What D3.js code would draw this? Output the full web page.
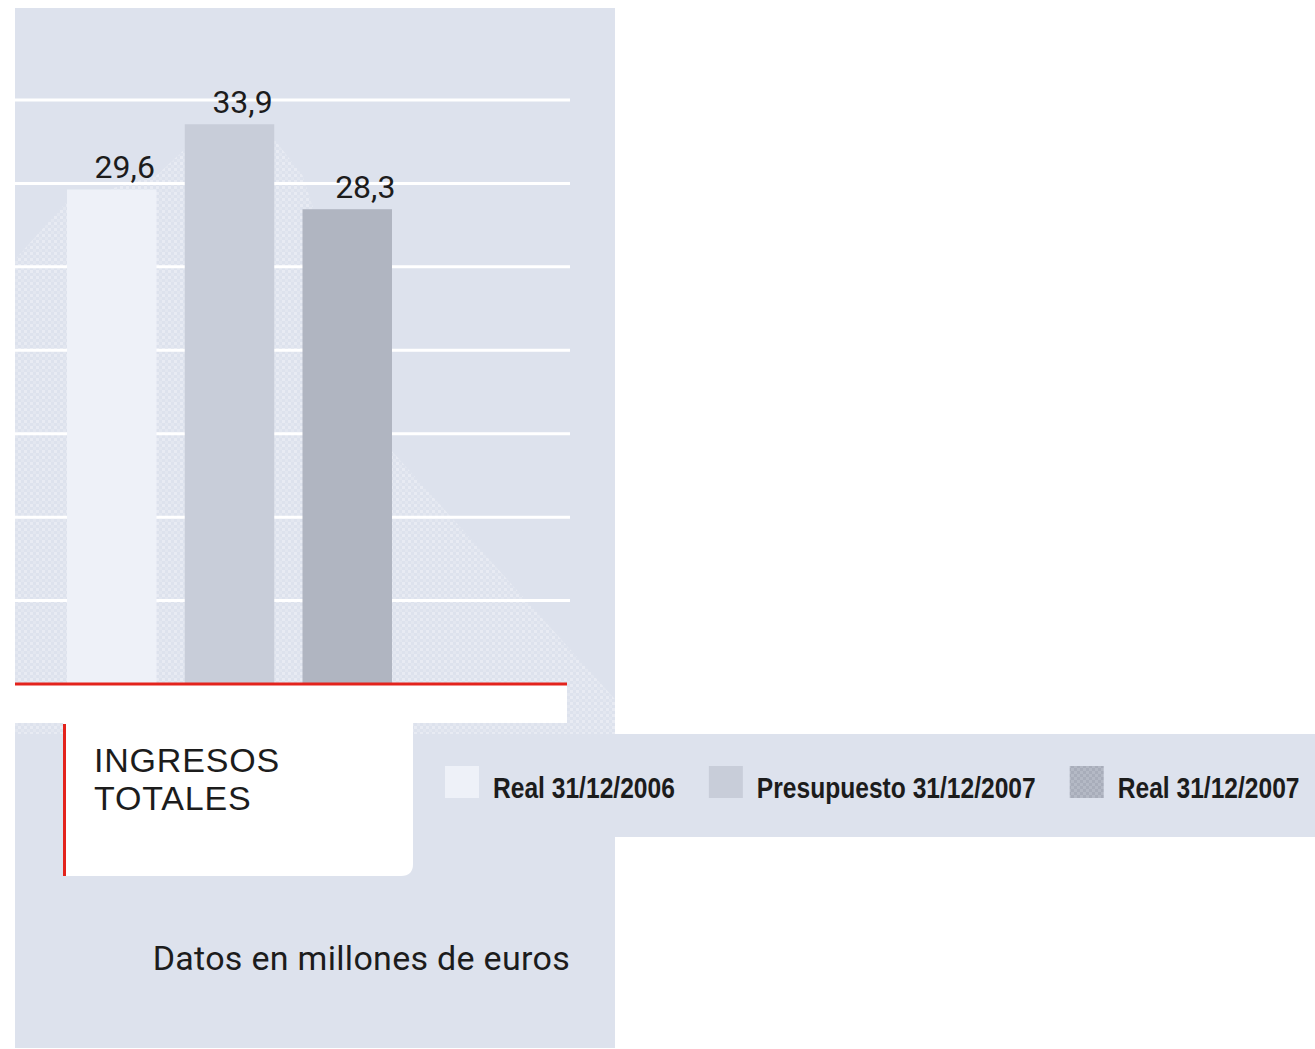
<!DOCTYPE html>
<html>
<head>
<meta charset="utf-8">
<script src="https://cdn.jsdelivr.net/npm/d3@7"></script>
<style>
  body { margin: 0; background: #ffffff; }
  svg { display: block; }
</style>
</head>
<body>
<div id="chart"></div>
<script>
// data
var categories = ["Real 31/12/2006", "Presupuesto 31/12/2007", "Real 31/12/2007"];
var values = [29.6, 33.9, 28.3];
var valueLabels = ["29,6", "33,9", "28,3"];
var gridValues = [2.5, 8, 13.5, 19, 24.5, 30, 35.5];
var titleLines = ["INGRESOS", "TOTALES"];
var footNote = "Datos en millones de euros";

var colors = ["#eef1f8", "#c8cdd9", "url(#checker)"];

// page / panel layout
var W = 1315, H = 1049;
var panel = { left: 15, top: 8, right: 615, bottom: 1048 },
    plot = { left: 15, right: 570, top: 100, bottom: 684 };

var svg = d3.select("#chart")
    .append("svg")
    .attr("width", W)
    .attr("height", H);

var defs = svg.append("defs");

// light dither used for the "shadow" areas
var dots = defs.append("pattern")
    .attr("id", "dots")
    .attr("width", 6).attr("height", 6)
    .attr("patternUnits", "userSpaceOnUse");
dots.append("rect").attr("width", 3).attr("height", 3).attr("fill", "#e8ebf3");
dots.append("rect").attr("x", 3).attr("y", 3).attr("width", 3).attr("height", 3).attr("fill", "#e3e7f0");

// checker for the 3rd bar swatch
var checker = defs.append("pattern")
    .attr("id", "checker")
    .attr("width", 6).attr("height", 6)
    .attr("patternUnits", "userSpaceOnUse");
checker.append("rect").attr("width", 6).attr("height", 6).attr("fill", "#b4b9c5");
checker.append("rect").attr("width", 3).attr("height", 3).attr("fill", "#a8adba");
checker.append("rect").attr("x", 3).attr("y", 3).attr("width", 3).attr("height", 3).attr("fill", "#a8adba");

// panel background
svg.append("rect")
    .attr("x", panel.left)
    .attr("y", panel.top)
    .attr("width", panel.right - panel.left)
    .attr("height", panel.bottom - panel.top)
    .attr("fill", "#dde2ed");

// scales
var x = d3.scaleBand()
    .domain(categories)
    .range([67, 392])
    .paddingInner(0.24)
    .paddingOuter(0);

var y = d3.scaleLinear()
    .domain([-3, 35.5])
    .range([plot.bottom, plot.top]);

var bw = x.bandwidth();
function bx(i) { return x(categories[i]); }
function by(i) { return y(values[i]); }

// soft shadow area behind bars (decorative)
var shadow = [
    [panel.left, by(0) + 70],
    [bx(0), by(0) + 12],
    [bx(0) + bw, by(0) - 14],
    [bx(1), by(1) + 25],
    [bx(1) + bw, by(1) + 15],
    [bx(2), by(2) - 34],
    [bx(2) + bw, by(2) + 242],
    [panel.right, by(2) + 490],
    [panel.right, 734],
    [panel.left, 734]
];
svg.append("path")
    .attr("d", d3.line()(shadow) + "Z")
    .attr("fill", "url(#dots)");

// gridlines
svg.selectAll(".grid")
    .data(gridValues)
    .enter().append("line")
    .attr("class", "grid")
    .attr("x1", plot.left)
    .attr("x2", plot.right)
    .attr("y1", function (d) { return y(d); })
    .attr("y2", function (d) { return y(d); })
    .attr("stroke", "#ffffff")
    .attr("stroke-width", 3);

// bars
svg.selectAll(".bar")
    .data(values)
    .enter().append("rect")
    .attr("class", "bar")
    .attr("x", function (d, i) { return x(categories[i]); })
    .attr("y", function (d) { return y(d); })
    .attr("width", bw)
    .attr("height", function (d) { return y(-3) - y(d); })
    .attr("fill", function (d, i) { return i == 2 ? "#b0b5c1" : colors[i]; });

// value labels
svg.selectAll(".val")
    .data(values)
    .enter().append("text")
    .attr("class", "val")
    .attr("x", function (d, i) { return x(categories[i]) + bw / 2 + (i == 2 ? 18 : 13); })
    .attr("y", function (d) { return y(d) - 11; })
    .attr("text-anchor", "middle")
    .attr("font-family", "Roboto, sans-serif")
    .attr("font-size", 32)
    .attr("fill", "#1c1c1c")
    .text(function (d, i) { return valueLabels[i]; });

// white strip + title box
svg.append("rect")
    .attr("x", plot.left).attr("y", plot.bottom)
    .attr("width", 567 - plot.left).attr("height", 723 - plot.bottom)
    .attr("fill", "#ffffff");

var bl = 63, br = 413, bt = 722, bb = 876, r = 12;
svg.append("path")
    .attr("d", "M" + bl + "," + bt + "H" + br + "V" + (bb - r) +
        "Q" + br + "," + bb + " " + (br - r) + "," + bb + "H" + bl + "Z")
    .attr("fill", "#ffffff");

svg.append("line")
    .attr("x1", bl + 1.5).attr("x2", bl + 1.5)
    .attr("y1", bt + 2).attr("y2", bb)
    .attr("stroke", "#e3231c")
    .attr("stroke-width", 3);

// red baseline
svg.append("line")
    .attr("x1", plot.left).attr("x2", 567)
    .attr("y1", y(-3)).attr("y2", y(-3))
    .attr("stroke", "#e3231c")
    .attr("stroke-width", 3);

// title, two lines
svg.selectAll(".title")
    .data(titleLines)
    .enter().append("text")
    .attr("class", "title")
    .attr("x", 94)
    .attr("y", function (d, i) { return 772 + i * 38; })
    .attr("font-family", "'Liberation Sans', Arial, sans-serif")
    .attr("font-size", 34)
    .attr("letter-spacing", 0.8)
    .attr("fill", "#1c1c1c")
    .text(function (d) { return d; });

// legend band
svg.append("rect")
    .attr("x", br).attr("y", 734)
    .attr("width", W - br).attr("height", 837 - 734)
    .attr("fill", "#dde2ed");

// legend text is a condensed face, squeeze it horizontally
var squeeze = 0.82;
var lx = 445;
categories.forEach(function (c, i) {
    svg.append("rect")
        .attr("x", lx).attr("y", 766)
        .attr("width", 34).attr("height", 32)
        .attr("fill", colors[i]);
    var t = svg.append("text")
        .attr("transform", "translate(" + (lx + 48) + ",798) scale(" + squeeze + ",1)")
        .attr("font-family", "'Liberation Sans', Arial, sans-serif")
        .attr("font-weight", "bold")
        .attr("font-size", 30)
        .attr("fill", "#1c1c1c")
        .text(c);
    lx = lx + 48 + t.node().getComputedTextLength() * squeeze + 34;
});

// footnote
svg.append("text")
    .attr("x", plot.right)
    .attr("y", 970)
    .attr("text-anchor", "end")
    .attr("font-family", "Roboto, sans-serif")
    .attr("font-size", 34)
    .attr("letter-spacing", 0.3)
    .attr("fill", "#1c1c1c")
    .text(footNote);
</script>
</body>
</html>
